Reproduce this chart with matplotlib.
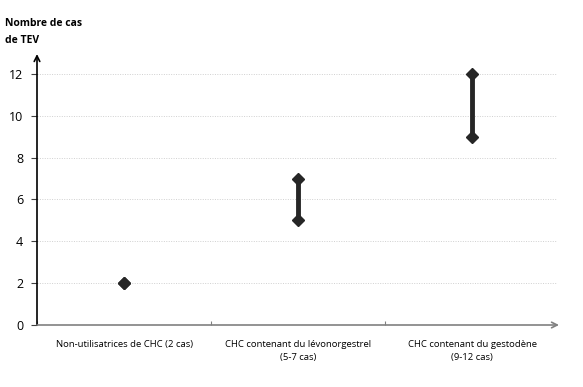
import matplotlib
matplotlib.use("Agg")
import matplotlib.pyplot as plt
import numpy as np

categories = ["Non-utilisatrices de CHC (2 cas)",
              "CHC contenant du lévonorgestrel\n(5-7 cas)",
              "CHC contenant du gestodène\n(9-12 cas)"]
low = [2, 5, 9]
high = [2, 7, 12]
yticks = [0, 2, 4, 6, 8, 10, 12]

plt.rcParams['font.family'] = ['Open Sans', 'DejaVu Sans']
fig = plt.figure(figsize=(5.83, 3.87), dpi=100)
ax = fig.add_axes([37/583, 62/387, (559-37)/583, (325-53)/387])
ax.set_xlim(0, 3)
ax.set_ylim(0, 13)

x = np.arange(len(categories)) + 0.5
for xi, lo, hi in zip(x, low, high):
    if hi > lo:
        ax.vlines(xi, lo, hi, color='#262626', lw=3.5, zorder=3)
ax.plot(x, low, 'D', color='#262626', ms=6.5, zorder=4, linestyle='none')
ax.plot(x, high, 'D', color='#262626', ms=6.5, zorder=4, linestyle='none')

for yv in yticks[1:]:
    ax.axhline(yv, color='#d0d0d0', lw=0.7, ls=(0, (1, 1.5)), zorder=1, xmax=0.995)

for s in ax.spines.values():
    s.set_visible(False)

ax.annotate('', xy=(0, 12.95), xytext=(0, 0), xycoords='data',
            arrowprops=dict(arrowstyle='->', color='black', lw=1.2, shrinkA=0, shrinkB=0),
            annotation_clip=False)
ax.annotate('', xy=(3.0, 0), xytext=(0, 0), xycoords='data',
            arrowprops=dict(arrowstyle='->', color='#808080', lw=1.2, shrinkA=0, shrinkB=0),
            annotation_clip=False)

ax.set_yticks(yticks)
ax.set_yticklabels([str(v) for v in yticks], fontsize=9)
ax.tick_params(axis='y', length=4, width=0.8, color='#404040', pad=6)
ax.set_xticks([0, 1, 2])
ax.set_xticklabels([])
ax.tick_params(axis='x', length=3, width=0.8, color='#808080', direction='in')

for xi, lab in zip(x, categories):
    ax.text(xi, -0.7, lab, ha='center', va='top', fontsize=6.8, linespacing=1.6)

fig.text(5/583, 1 - 18/387, "Nombre de cas\nde TEV", ha='left', va='top',
         fontsize=7.5, fontweight='bold', linespacing=1.7)

fig.savefig("out.png", dpi=100, facecolor='white')
